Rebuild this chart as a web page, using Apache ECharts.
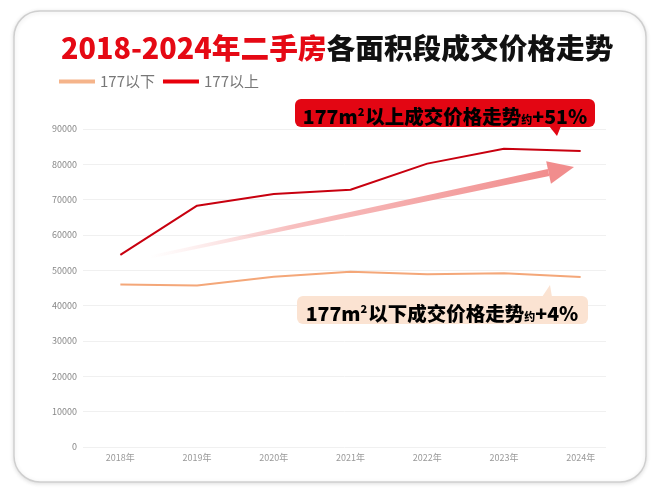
<!DOCTYPE html>
<html><head><meta charset="utf-8">
<script src="https://cdn.jsdelivr.net/npm/echarts@6/dist/echarts.min.js"></script>
<style>html,body{margin:0;padding:0;background:#fff}#c{width:660px;height:495px}</style>
</head><body><div id="c"></div>
<script>
const years = ['2018年','2019年','2020年','2021年','2022年','2023年','2024年'];
const below177 = [46000, 45700, 48200, 49600, 48900, 49200, 48100];
const above177 = [54400, 68300, 71600, 72800, 80200, 84400, 83800];
const seriesNames = ['177以下', '177以上'];
const yTicks = {min: 0, max: 90000, interval: 10000};

const FONT = '"Noto Sans CJK SC","Noto Sans",sans-serif';
const chart = echarts.init(document.getElementById('c'), null, {renderer: 'canvas'});

// arrow geometry (decoration)
const aS = [150, 257], aT = [574, 167];
const dx = aT[0]-aS[0], dy = aT[1]-aS[1], L = Math.hypot(dx, dy);
const ux = dx/L, uy = dy/L, nx = -uy, ny = ux;
const headLen = 26, headHW = 11.5, sw0 = 1.5, sw1 = 3.6;
const hb = [aT[0]-ux*headLen, aT[1]-uy*headLen];
const shaft = [
  [aS[0]+nx*sw0, aS[1]+ny*sw0], [hb[0]+nx*sw1, hb[1]+ny*sw1],
  [hb[0]-nx*sw1, hb[1]-ny*sw1], [aS[0]-nx*sw0, aS[1]-ny*sw0]
];
const head = [[hb[0]+nx*headHW, hb[1]+ny*headHW], aT, [hb[0]-nx*headHW, hb[1]-ny*headHW]];

const richBase = (color) => ({
  a: {fontSize: 19.5, fontWeight: 900, color: color, fontFamily: FONT, lineHeight: 26, verticalAlign: 'bottom'},
  s: {fontSize: 11, fontWeight: 900, color: color, fontFamily: FONT, lineHeight: 26, verticalAlign: 'bottom', padding: [0,1,9,0]},
  y: {fontSize: 11, fontWeight: 900, color: color, fontFamily: FONT, lineHeight: 26, verticalAlign: 'bottom', padding: [0,0,1,0]}
});

chart.setOption({
  animation: false,
  backgroundColor: '#fff',
  title: {
    text: '{r|2018-2024年二手房}{k|各面积段成交价格走势}',
    left: 56, top: 29,
    textStyle: {
      rich: {
        r: {fontSize: 28.7, fontWeight: 900, color: '#e50914', fontFamily: FONT},
        k: {fontSize: 28.7, fontWeight: 900, color: '#111', fontFamily: FONT}
      }
    }
  },
  legend: {
    data: seriesNames, left: 54, top: 69, itemWidth: 36, itemHeight: 4, itemGap: 8,
    icon: 'rect',
    textStyle: {color: '#777', fontSize: 15, fontFamily: FONT}
  },
  grid: [
    {left: 83, right: 54, top: 129, bottom: 48},
    {left: 82, right: 41, top: 129, bottom: 48}
  ],
  xAxis: [
    {gridIndex: 0, type: 'category', data: years, show: false},
    {gridIndex: 1, type: 'category', data: years,
      axisLine: {show: false}, axisTick: {show: false},
      axisLabel: {color: '#999', fontSize: 9, margin: 6, fontFamily: FONT}}
  ],
  yAxis: [
    {gridIndex: 0, type: 'value', min: yTicks.min, max: yTicks.max, interval: yTicks.interval,
      axisLine: {show: false}, axisTick: {show: false},
      axisLabel: {color: '#888', fontSize: 9, margin: 6, fontFamily: FONT, formatter: v => String(v)},
      splitLine: {lineStyle: {color: '#f0f0f0', width: 1}}},
    {gridIndex: 1, type: 'value', min: yTicks.min, max: yTicks.max, interval: yTicks.interval, show: false,
      splitLine: {show: false}}
  ],
  series: [
    {name: seriesNames[0], type: 'line', xAxisIndex: 1, yAxisIndex: 1, data: below177,
      symbol: 'none', lineStyle: {color: '#f4a779', width: 2}, itemStyle: {color: '#f5b48a'}, z: 3},
    {name: seriesNames[1], type: 'line', xAxisIndex: 1, yAxisIndex: 1, data: above177,
      symbol: 'none', lineStyle: {color: '#c8000f', width: 2}, itemStyle: {color: '#e8000b'}, z: 4}
  ],
  graphic: [
    {type: 'rect', shape: {x: 14, y: 11, width: 632, height: 471, r: 26}, z: -10,
      style: {fill: '#fff', stroke: '#cfcfcf', lineWidth: 1.5, shadowColor: 'rgba(0,0,0,0.12)', shadowBlur: 4, shadowOffsetY: 1}},
    {type: 'polygon', shape: {points: shaft}, z: 2,
      style: {fill: {type: 'linear', x: 0, y: 0, x2: 1, y2: 0, colorStops: [
        {offset: 0, color: 'rgba(248,200,200,0)'},
        {offset: 0.35, color: 'rgba(245,170,170,0.75)'},
        {offset: 1, color: 'rgba(240,135,135,0.95)'}]}}},
    {type: 'polygon', shape: {points: head}, z: 2, style: {fill: 'rgba(240,135,135,0.95)'}},
    // red annotation
    {type: 'rect', shape: {x: 295, y: 99, width: 300, height: 28, r: 6}, z: 10, style: {fill: '#e30613'}},
    {type: 'polygon', shape: {points: [[549, 126], [561, 126], [557, 136]]}, z: 10, style: {fill: '#e30613'}},
    {type: 'text', x: 445, y: 113, z: 11,
      style: {text: '{a|177m}{s|2}{a|以上成交价格走势}{y|约}{a|+51%}', align: 'center', verticalAlign: 'middle',
        rich: richBase('#fff')}},
    // orange annotation
    {type: 'rect', shape: {x: 297, y: 296, width: 291, height: 28, r: 6}, z: 10, style: {fill: '#fbe3d2'}},
    {type: 'polygon', shape: {points: [[542, 297], [552, 297], [550, 285]]}, z: 10, style: {fill: '#fbe3d2'}},
    {type: 'text', x: 442, y: 310, z: 11,
      style: {text: '{a|177m}{s|2}{a|以下成交价格走势}{y|约}{a|+4%}', align: 'center', verticalAlign: 'middle',
        rich: richBase('#111')}}
  ]
});
</script></body></html>
